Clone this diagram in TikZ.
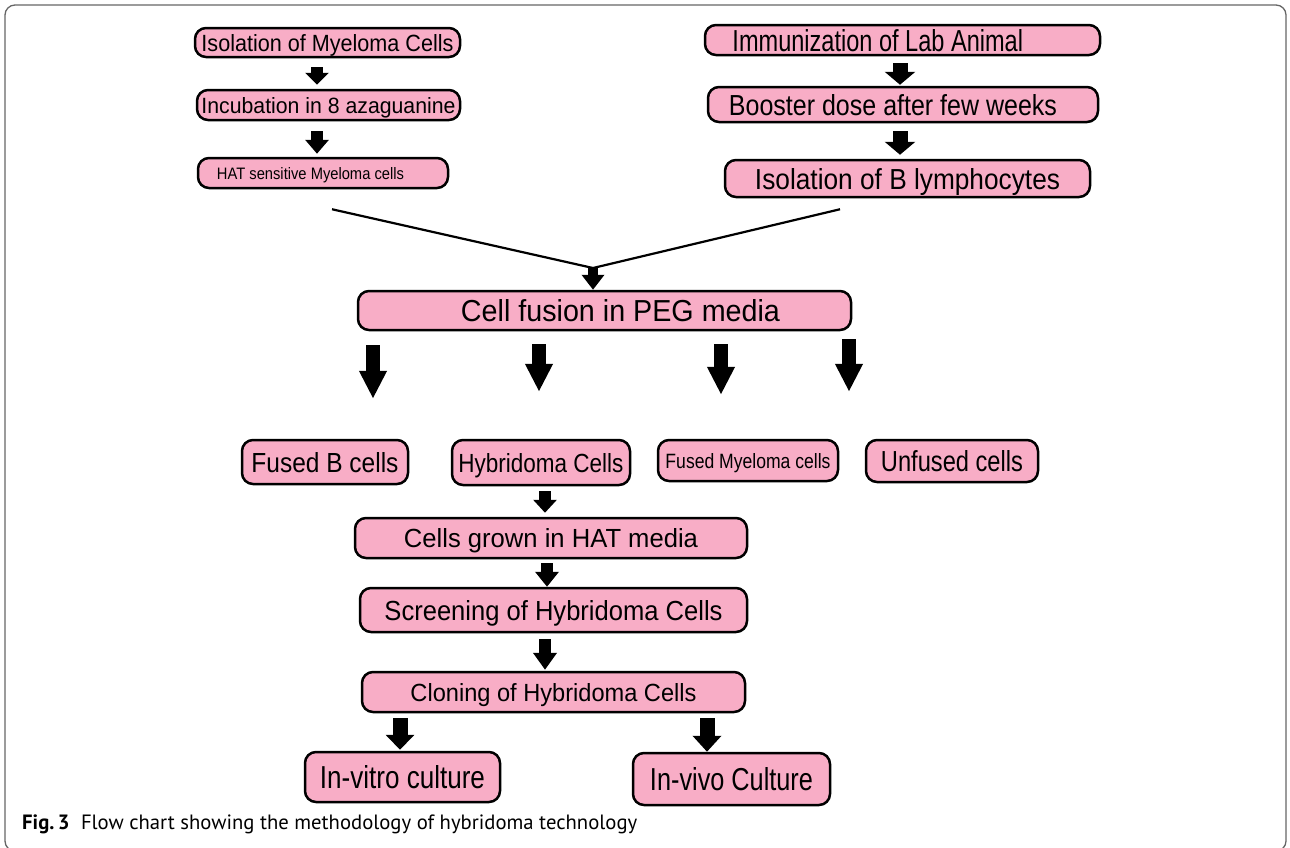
\documentclass[tikz,border=0pt]{standalone}
\usepackage{fontspec}
\setmainfont{Liberation Sans}
\newfontfamily\capfont{PT Sans}
\usetikzlibrary{arrows.meta,calc}
\definecolor{boxpink}{HTML}{F8ADC6}
\definecolor{framegray}{HTML}{666666}
\newcommand\bx[9]{\node[box,minimum width=#4pt,minimum height=#5pt,text height=#7pt] (#1) at (#2,#3) {#8\resizebox{#6pt}{#7pt}{#9}};}
\begin{document}
\begin{tikzpicture}[x=1pt,y=-1pt,
  box/.style={draw=black,line width=2.5pt,fill=boxpink,rounded corners=11pt,inner sep=0pt,text depth=0pt},
  fat/.style n args={3}{line width=#1pt,-{Triangle[width=#2pt,length=#3pt]}},
  thinline/.style={line width=2.2pt}]
\useasboundingbox (0,0) rectangle (1290,847);
\draw[framegray,line width=1.3pt,rounded corners=10pt] (5,5) rectangle (1286,851);
% left column
\bx{iso}{327.5}{42.5}{265}{29}{252}{17}{}{Isolation of Myeloma Cells}
\bx{inc}{328.5}{105}{263}{30}{254}{16}{}{Incubation in 8 azaguanine}
\bx{hat}{323}{173}{250}{30}{212}{12}{}{HAT sensitive Myeloma cells\hspace*{17pt}}
% right column
\bx{imm}{902.5}{40}{395}{30}{340}{22}{}{Immunization of Lab Animal\hspace*{21pt}}
\bx{boo}{903}{104.5}{390}{35}{348}{21}{}{Booster dose after few weeks\hspace*{8pt}}
\bx{isb}{907.5}{178.5}{365}{37}{305}{21}{}{Isolation of B lymphocytes}
% fusion
\bx{peg}{604.5}{310.5}{493}{39}{319}{22}{\hspace*{32pt}}{Cell fusion in PEG media}
% outcomes
\bx{fb}{325}{462}{166}{44}{147}{20}{}{Fused B cells}
\bx{hyb}{541}{462.5}{178}{45}{165}{19}{}{Hybridoma Cells}
\bx{fm}{748}{460.5}{180}{41}{165}{15}{}{Fused Myeloma cells}
\bx{unf}{952}{461}{172}{42}{142}{21}{}{Unfused cells}
% lower chain
\bx{cg}{551}{538}{392}{40}{294}{19}{}{Cells grown in HAT media}
\bx{scr}{553.5}{610}{387}{44}{338}{20}{}{Screening of Hybridoma Cells}
\bx{clo}{553.5}{692}{383}{40}{286}{18}{}{Cloning of Hybridoma Cells}
\bx{ivt}{402.5}{777}{195}{50}{165}{23}{}{In-vitro culture}
\bx{ivv}{731.5}{779}{197}{52}{163}{23}{}{In-vivo Culture}
% arrows left column
\draw[fat={12}{23}{12}] ($(iso.south)+(-10.5,9)$) -- ($(inc.north)+(-11.5,-4)$);
\draw[fat={12}{23}{14}] ($(inc.south)+(-11.5,10)$) -- ($(hat.north)+(-6,-3)$);
% arrows right column
\draw[fat={15}{30}{13}] ($(imm.south)+(-2.5,7)$) -- ($(boo.north)+(-3,-1)$);
\draw[fat={15}{30}{13}] ($(boo.south)+(-3,8)$) -- ($(isb.north)+(-7.5,-4)$);
% converging lines
\coordinate (m) at (593,268);
\draw[thinline] ($(hat.south)+(9,20)$) -- (m);
\draw[thinline] ($(isb.south)+(-67.5,11)$) -- (m);
\draw[fat={10}{22}{15}] (m) -- ($(peg.north)+(-11.5,0)$);
% fan arrows
\draw[fat={14}{26}{28}] ($(peg.south)+(-231.5,14)$) -- ($(fb.north)+(48,-40)$);
\draw[fat={14}{26}{28}] ($(peg.south)+(-65.5,13)$) -- ($(hyb.north)+(-2,-47)$);
\draw[fat={14}{26}{28}] ($(peg.south)+(116.5,13)$) -- ($(fm.north)+(-27,-44)$);
\draw[fat={14}{26}{28}] ($(peg.south)+(244.5,8)$) -- ($(unf.north)+(-103,-47)$);
% lower chain arrows
\draw[fat={12}{23}{13}] ($(hyb.south)+(4,5)$) -- ($(cg.north)+(-6,-4)$);
\draw[fat={12}{23}{15}] ($(cg.south)+(-4,4)$) -- ($(scr.north)+(-6.5,0)$);
\draw[fat={12}{23}{17}] ($(scr.south)+(-8.5,6)$) -- ($(clo.north)+(-8.5,-1)$);
\draw[fat={15}{28}{15}] ($(clo.south)+(-153.5,5)$) -- ($(ivt.north)+(-2.5,-1)$);
\draw[fat={15}{28}{16}] ($(clo.south)+(153.5,5)$) -- ($(ivv.north)+(-24.5,0)$);
% caption
\node[anchor=base west,inner sep=0pt] (cap) at (22,829) {\resizebox{615pt}{!}{\capfont\fontsize{18}{20}\selectfont\textbf{Fig.\,3}\hspace{0.55em}Flow chart showing the methodology of hybridoma technology}};
\end{tikzpicture}
\end{document}
